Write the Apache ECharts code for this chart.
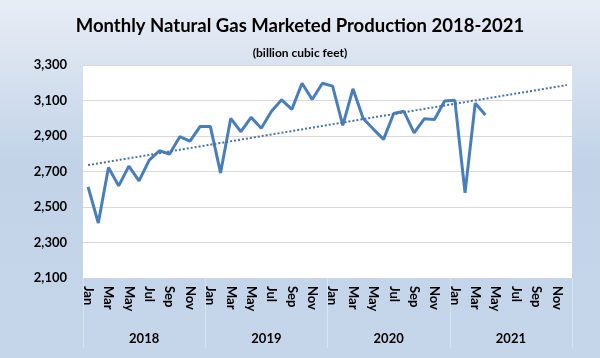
<!DOCTYPE html>
<html>
<head>
<meta charset="utf-8">
<script src="https://cdn.jsdelivr.net/npm/echarts@6/dist/echarts.min.js"></script>
<style>
html,body{margin:0;padding:0;background:#fff;}
#chart{width:600px;height:358px;}
</style>
</head>
<body>
<div id="chart"></div>
<script>
const years = ['2018', '2019', '2020', '2021'];
const monthNames = ['Jan','Feb','Mar','Apr','May','Jun','Jul','Aug','Sep','Oct','Nov','Dec'];
const production = [
  2613, 2410, 2722, 2619, 2730, 2647, 2764, 2817, 2798, 2896, 2871, 2954,
  2954, 2692, 2999, 2924, 3005, 2944, 3039, 3104, 3050, 3197, 3106, 3197,
  3181, 2960, 3166, 2999, 2939, 2881, 3027, 3039, 2918, 2997, 2993, 3097,
  3101, 2580, 3084, 3018
];
const trendEnds = [2736, 3187];
const yTicks = { min: 2100, max: 3300, interval: 200 };

const categories = [];
years.forEach(y => monthNames.forEach(m => categories.push(m + ' ' + y)));

const FONT = 'Lato';
const chart = echarts.init(document.getElementById('chart'), null, { renderer: 'canvas' });
chart.setOption({
  animation: false,
  backgroundColor: {
    type: 'linear', x: 0, y: 0, x2: 0, y2: 1,
    colorStops: [
      { offset: 0, color: '#e8edf5' },
      { offset: 0.45, color: '#c2d3e8' },
      { offset: 1, color: '#c6d6ea' }
    ]
  },
  title: [
    {
      text: 'Monthly Natural Gas Marketed Production 2018-2021',
      left: 'center', top: 12,
      textStyle: { fontFamily: FONT, fontWeight: 'bold', fontSize: 18.5, color: '#000' }
    },
    {
      text: '(billion cubic feet)',
      left: 'center', top: 42,
      textStyle: { fontFamily: FONT, fontWeight: 'bold', fontSize: 12, color: '#000' }
    }
  ],
  grid: {
    left: 83, right: 28, top: 65, bottom: 80,
    show: true, backgroundColor: '#ffffff', borderWidth: 0
  },
  xAxis: [
    {
      type: 'category', data: categories, boundaryGap: true,
      axisLine: { show: true, lineStyle: { color: '#c9d6e6', width: 1 } },
      axisTick: { show: false },
      axisLabel: {
        interval: 1, rotate: -90, margin: 8,
        fontFamily: FONT, fontWeight: 'bold', fontSize: 13, color: '#000',
        formatter: v => v.split(' ')[0]
      }
    },
    {
      type: 'category', data: years, position: 'bottom', boundaryGap: true,
      axisLine: { show: false },
      axisTick: { show: true, length: 70, lineStyle: { color: '#d8e3f0', width: 1 } },
      axisLabel: { margin: 54, fontFamily: FONT, fontWeight: 'bold', fontSize: 13, color: '#000' }
    }
  ],
  yAxis: {
    type: 'value', min: yTicks.min, max: yTicks.max, interval: yTicks.interval,
    axisLine: { show: false }, axisTick: { show: false },
    splitLine: { lineStyle: { color: '#d9d9d9', width: 1 } },
    axisLabel: {
      margin: 16, fontFamily: FONT, fontWeight: 'bold', fontSize: 13, color: '#000',
      formatter: v => v.toLocaleString('en-US')
    }
  },
  series: [
    {
      type: 'line', data: production, xAxisIndex: 0,
      symbol: 'none', smooth: false,
      lineStyle: { color: '#4a7ebb', width: 3 }
    },
    {
      type: 'line', xAxisIndex: 0,
      data: [[categories[0], trendEnds[0]], [categories[categories.length - 1], trendEnds[1]]],
      symbol: 'none',
      lineStyle: { color: '#4a70a5', width: 2, type: [2, 2] }
    }
  ]
});
</script>
</body>
</html>
